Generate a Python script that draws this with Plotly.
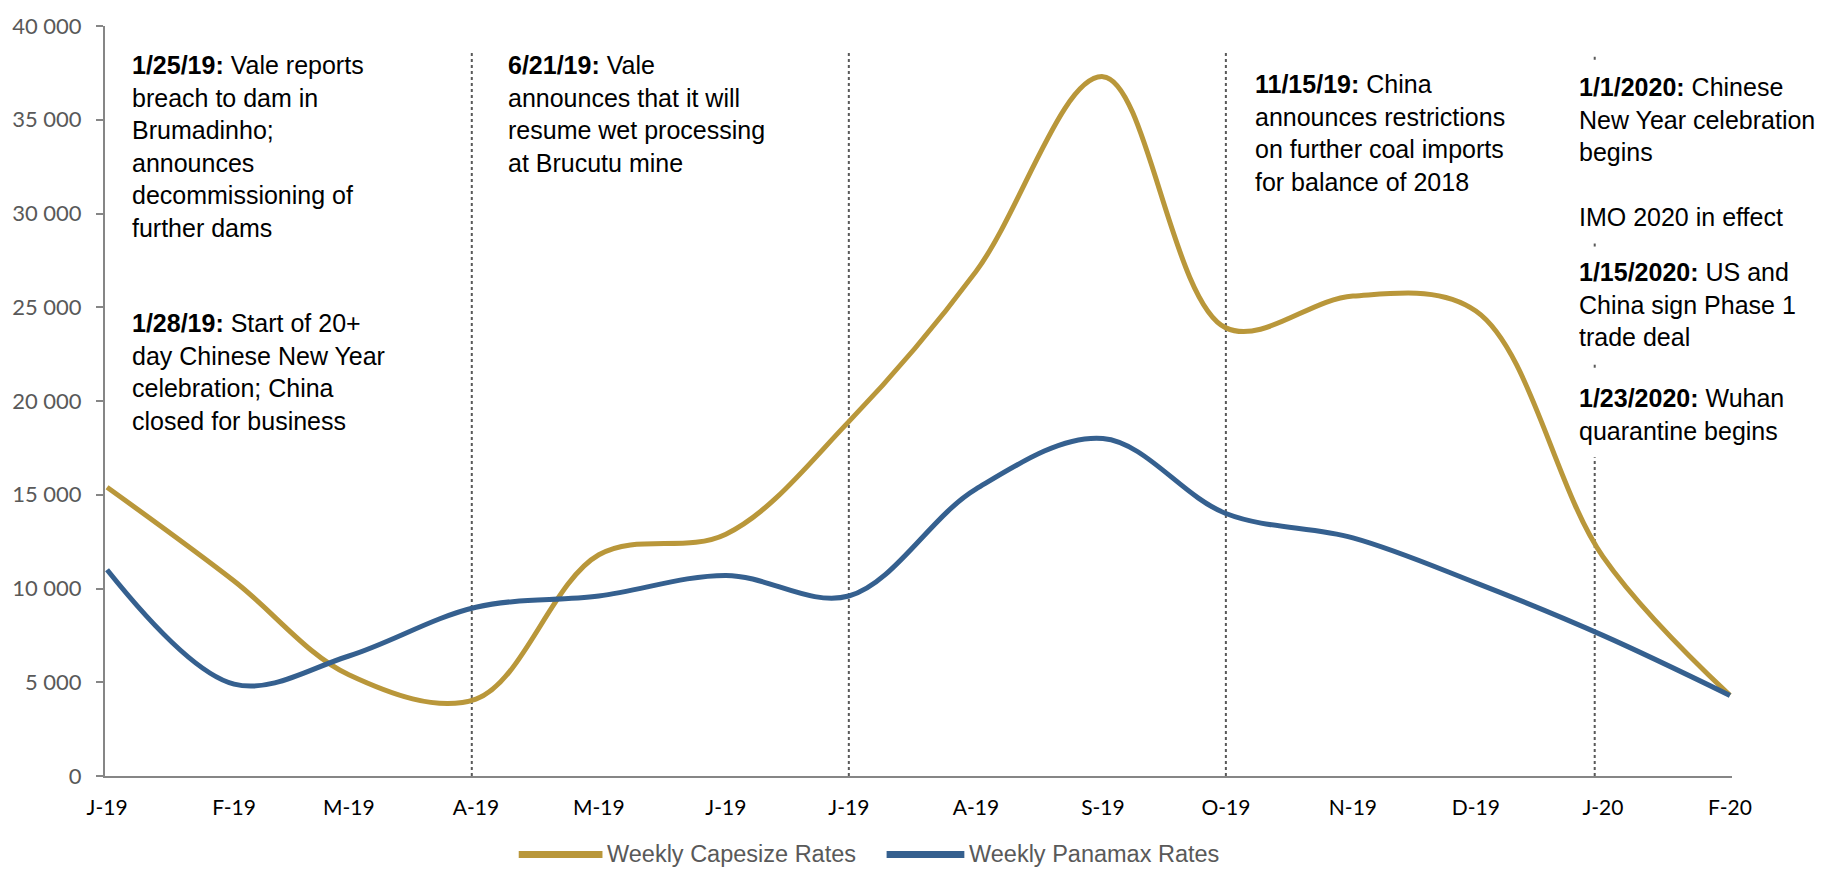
import plotly.graph_objects as go

# Monthly dry-bulk freight rates (USD/day)
months = ["2019-01-01", "2019-02-01", "2019-03-01", "2019-04-01", "2019-05-01",
          "2019-06-01", "2019-07-01", "2019-08-01", "2019-09-01", "2019-10-01",
          "2019-11-01", "2019-12-01", "2020-01-01", "2020-02-01"]
capesize = [15400, 10400, 5400, 4100, 11800, 12900, 18900, 26900, 37300, 23900,
            25600, 24800, 11700, 4300]
panamax = [11000, 4900, 6400, 9000, 9600, 10700, 9600, 15300, 18000, 14000,
           12700, 10300, 7500, 4300]
tick_labels = ["J-19", "F-19", "M-19", "A-19", "M-19", "J-19", "J-19", "A-19",
               "S-19", "O-19", "N-19", "D-19", "J-20", "F-20"]
series_names = ["Weekly Capesize Rates", "Weekly Panamax Rates"]

# Quarter markers
marker_dates = ["2019-03-31", "2019-07-01", "2019-10-01", "2019-12-30"]

events_left = [
    "<b>1/25/19:</b> Vale reports<br>breach to dam in<br>Brumadinho;<br>announces<br>decommissioning of<br>further dams",
    "<b>1/28/19:</b> Start of 20+<br>day Chinese New Year<br>celebration; China<br>closed for business",
]
event_june = "<b>6/21/19:</b> Vale<br>announces that it will<br>resume wet processing<br>at Brucutu mine"
event_nov = "<b>11/15/19:</b> China<br>announces restrictions<br>on further coal imports<br>for balance of 2018"
events_jan = [
    "<b>1/1/2020:</b> Chinese<br>New Year celebration<br>begins<br><br>IMO 2020 in effect",
    "<b>1/15/2020:</b> US and<br>China sign Phase 1<br>trade deal",
    "<b>1/23/2020:</b> Wuhan<br>quarantine begins",
]

GOLD = "#B9973A"
BLUE = "#35608F"
AXIS_GREY = "#868686"
LABEL_GREY = "#595959"

W, H = 1835, 871
ML, MR, MT, MB = 100, 103, 21, 95
PW, PH = W - ML - MR, H - MT - MB


def px(x):
    return (x - ML) / PW


def py(y):
    return 1 - (y - MT) / PH


fig = go.Figure()
fig.add_trace(go.Scatter(x=months, y=capesize, name=series_names[0], mode="lines",
                         line=dict(color=GOLD, width=5, shape="spline", smoothing=1.0),
                         showlegend=False))
fig.add_trace(go.Scatter(x=months, y=panamax, name=series_names[1], mode="lines",
                         line=dict(color=BLUE, width=5, shape="spline", smoothing=1.0),
                         showlegend=False))

dot_line = dict(color=LABEL_GREY, width=2, dash="dot")
shapes = []
for d in marker_dates[:3]:
    shapes.append(dict(type="line", xref="x", yref="paper", x0=d, x1=d,
                       y0=0, y1=py(47), layer="below", line=dot_line))
# the January marker only shows in the gaps between the event notes
for top, bottom in [(49, 55), (237, 243), (359, 365), (455, 776)]:
    shapes.append(dict(type="line", xref="x", yref="paper",
                       x0=marker_dates[3], x1=marker_dates[3],
                       y0=py(bottom), y1=py(top), layer="below", line=dot_line))

# legend drawn as line swatches with labels
legend_y = py(855)
for (x0, x1), col in zip([(515, 599), (884, 962)], [GOLD, BLUE]):
    shapes.append(dict(type="line", xref="paper", yref="paper", x0=px(x0), x1=px(x1),
                       y0=legend_y, y1=legend_y, line=dict(color=col, width=7)))

annotations = []
for name, x0 in zip(series_names, [603, 966]):
    annotations.append(dict(text=name, xref="paper", yref="paper", x=px(x0), y=legend_y,
                            xanchor="left", yanchor="middle", showarrow=False, borderpad=0,
                            font=dict(family="Liberation Sans, Arial", size=23.5, color=LABEL_GREY)))

ev_font = dict(family="Liberation Sans, Arial", size=25, color="#000000")


def event(text, x, top):
    return dict(text=text, xref="paper", yref="paper", x=px(x), y=py(top),
                xanchor="left", yanchor="top", align="left", showarrow=False,
                font=ev_font, borderpad=0)


annotations.append(event(events_left[0], 126, 45))
annotations.append(event(events_left[1], 126, 305))
annotations.append(event(event_june, 503, 45))
annotations.append(event(event_nov, 1253, 64))
for txt, top in zip(events_jan, [67, 254, 380]):
    annotations.append(event(txt, 1578, top))

fig.update_layout(
    width=W, height=H, autosize=False,
    margin=dict(l=ML, r=MR, t=MT, b=MB),
    paper_bgcolor="white", plot_bgcolor="white",
    separators=". ",
    shapes=shapes, annotations=annotations,
    xaxis=dict(type="date", range=["2018-12-31 12:00", "2020-02-01 12:00"],
               tickvals=months, ticktext=tick_labels, showgrid=False,
               showline=True, linecolor=AXIS_GREY, linewidth=2, ticks="",
               ticklabelstandoff=12,
               tickfont=dict(family="Lato, Calibri, sans-serif", size=21, color="#000000"),
               zeroline=False),
    yaxis=dict(range=[0, 40000], dtick=5000, tickformat=",d", showgrid=False,
               showline=True, linecolor=AXIS_GREY, linewidth=2, ticks="outside",
               ticklen=7, tickcolor=AXIS_GREY, tickwidth=2, ticklabelstandoff=10,
               tickfont=dict(family="Lato, Calibri, sans-serif", size=22, color=LABEL_GREY),
               zeroline=False),
)

fig.write_html("out.html")
